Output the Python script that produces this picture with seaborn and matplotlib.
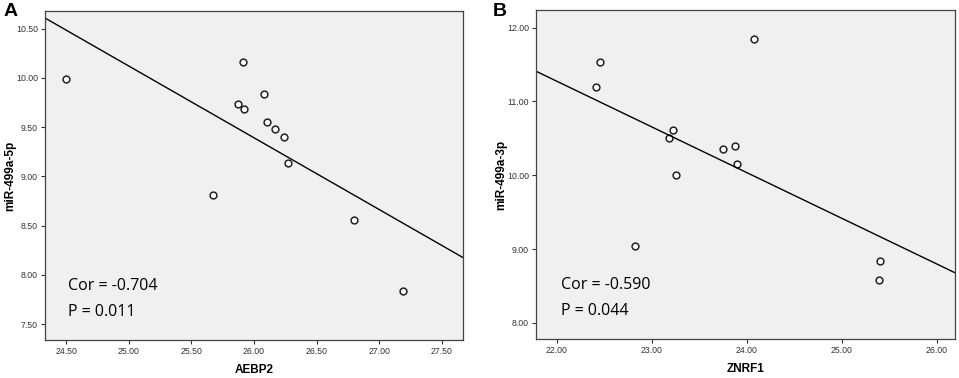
import numpy as np
import pandas as pd
import matplotlib
matplotlib.use("Agg")
import matplotlib.pyplot as plt
import seaborn as sns

# Panel A: AEBP2 vs miR-499a-5p
aebp2 = [24.50, 25.91, 26.08, 25.87, 25.92, 26.10, 26.17, 26.24, 26.27, 25.67, 26.80, 27.19]
mir5p = [9.99, 10.16, 9.84, 9.74, 9.69, 9.55, 9.48, 9.40, 9.14, 8.81, 8.555, 7.835]

# Panel B: ZNRF1 vs miR-499a-3p
znrf1 = [24.07, 22.45, 22.41, 23.22, 23.18, 23.75, 23.87, 23.90, 23.25, 22.82, 25.40, 25.39]
mir3p = [11.85, 11.54, 11.20, 10.62, 10.50, 10.355, 10.395, 10.155, 10.005, 9.035, 8.835, 8.585]

stats_a = ["Cor = -0.704", "P = 0.011"]
stats_b = ["Cor = -0.590", "P = 0.044"]

xticks_a = [24.5, 25.0, 25.5, 26.0, 26.5, 27.0, 27.5]
yticks_a = [7.5, 8.0, 8.5, 9.0, 9.5, 10.0, 10.5]
xticks_b = [22.0, 23.0, 24.0, 25.0, 26.0]
yticks_b = [8.0, 9.0, 10.0, 11.0, 12.0]

sns.set_style("white")
plt.rcParams['font.family'] = ['Liberation Sans', 'DejaVu Sans']
plt.rcParams['text.color'] = 'black'

fig = plt.figure(figsize=(9.59, 3.78), dpi=100)
W, H = 959, 378
ax_a = fig.add_axes([45 / W, 1 - 340 / H, (463 - 45) / W, (340 - 11) / H])
ax_b = fig.add_axes([536 / W, 1 - 339 / H, (955 - 536) / W, (339 - 10) / H])

panels = [
    (ax_a, aebp2, mir5p, "AEBP2", "miR-499a-5p", (24.33, 27.67), (7.34, 10.68),
     xticks_a, yticks_a, stats_a, 0.054, "A"),
    (ax_b, znrf1, mir3p, "ZNRF1", "miR-499a-3p", (21.78, 26.19), (7.78, 12.24),
     xticks_b, yticks_b, stats_b, 0.060, "B"),
]

for ax, x, y, xl, yl, xlim, ylim, xt, yt, st, tx, tag in panels:
    df = pd.DataFrame({xl: x, yl: y})
    ax.set_facecolor("#f0f0f0")
    ax.set_xlim(xlim)
    ax.set_ylim(ylim)
    sns.regplot(data=df, x=xl, y=yl, ax=ax, ci=None, truncate=False,
                scatter_kws=dict(s=24, facecolor="white", edgecolor="#222222",
                                 linewidths=1.1, alpha=1),
                line_kws=dict(color="black", lw=1.0))
    ax.set_xlim(xlim)
    ax.set_ylim(ylim)
    ax.set_xticks(xt)
    ax.set_yticks(yt)
    ax.set_xticklabels([f"{v:.2f}" for v in xt])
    ax.set_yticklabels([f"{v:.2f}" for v in yt])
    ax.tick_params(axis="both", direction="out", length=3, width=0.8,
                   labelsize=6.3, colors="#333333", pad=2, bottom=True, left=True)
    for s in ax.spines.values():
        s.set_color("#444444")
        s.set_linewidth(0.9)
    ax.set_xlabel(xl, fontsize=8.5, fontweight="bold", va="center", color="black")
    ax.set_ylabel(yl, fontsize=8.5, fontweight="bold", va="center", color="black")
    ax.xaxis.set_label_coords(0.5, -0.091)
    ax.yaxis.set_label_coords(-0.084, 0.5)
    ax.text(tx, 0.164, st[0], transform=ax.transAxes, fontsize=11.5,
            family=["Open Sans", "DejaVu Sans"], va="center", ha="left", color="black")
    ax.text(tx, 0.085, st[1], transform=ax.transAxes, fontsize=11.5,
            family=["Open Sans", "DejaVu Sans"], va="center", ha="left", color="black")

fig.text(4 / W, 1 - 11 / H, "A", fontsize=14, fontweight="bold", va="center", ha="left")
fig.text(493 / W, 1 - 11 / H, "B", fontsize=14, fontweight="bold", va="center", ha="left")

fig.savefig("out.png", dpi=100, facecolor="white")
